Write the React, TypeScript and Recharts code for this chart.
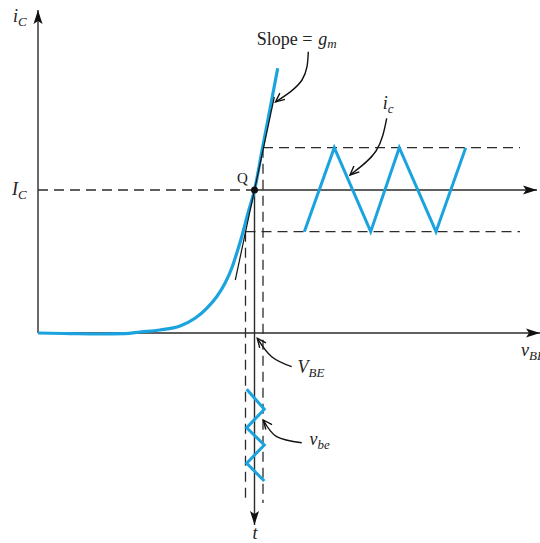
import { ComposedChart, Line, XAxis, YAxis, ReferenceDot } from 'recharts';

// units: origin where the i_C and v_BE axes meet, y pointing up
const yAxisLine = [{ x: 0, y: 0 }, { x: 0, y: 323 }];
const xAxisLine = [{ x: 0, y: 0 }, { x: 502, y: 0 }];
const tAxisLine = [{ x: 216.5, y: 143 }, { x: 216.5, y: -192 }];
const qRightLine = [{ x: 216.5, y: 143 }, { x: 499, y: 143 }];
const icLevelDash = [{ x: 0, y: 143 }, { x: 216.5, y: 143 }];
const icTopDash = [{ x: 225, y: 185.3 }, { x: 482, y: 185.3 }];
const icBottomDash = [{ x: 207.5, y: 101.3 }, { x: 482, y: 101.3 }];
const vbeLeftDash = [{ x: 207.5, y: 101.3 }, { x: 207.5, y: -170 }];
const vbeRightDash = [{ x: 225, y: 185.3 }, { x: 225, y: -170 }];

const curveX = [0, 32, 62, 87, 102, 122, 142, 157, 168.7, 178.7, 187, 193.7, 198.7, 203.7, 210, 216.5, 224.5, 232, 239.7];
const curveY = [0, -0.6, -1, -0.6, 1, 3, 7, 14.7, 24.7, 36.3, 49.7, 64.7, 79.7, 96.3, 120, 143, 185, 224, 264.7];
const curve = curveX.map((x, i) => ({ x, y: curveY[i] }));

const tangent = [{ x: 197.3, y: 53 }, { x: 236.3, y: 236 }];

const icX = [266.3, 296.3, 332.7, 361.3, 398, 427.7];
const icY = [101.3, 185.3, 101.3, 185.3, 101.3, 185.3];
const icWave = icX.map((x, i) => ({ x, y: icY[i] }));

const vbeX = [208.7, 226.3, 208.7, 226.3, 208.7, 226.3];
const vbeY = [-56.3, -76.3, -94.7, -112, -130.3, -148];
const vbeWave = vbeX.map((x, i) => ({ x, y: vbeY[i] }));

const slopeArrow = [{ x: 270.3, y: 281.3 }, { x: 264, y: 253 }, { x: 237.5, y: 231 }];
const icArrow = [{ x: 348.7, y: 214.7 }, { x: 338, y: 182 }, { x: 312, y: 158 }];
const VBEArrow = [{ x: 253.7, y: -33.7 }, { x: 233.7, y: -23.7 }, { x: 219.3, y: -5.3 }];
const vbeArrow = [{ x: 263.7, y: -109.7 }, { x: 238.7, y: -103.7 }, { x: 225.3, y: -87 }];

const BLUE = '#1aa3de';
const INK = '#2b2b2b';
const SERIF = '"Liberation Serif", "DejaVu Serif", "Times New Roman", serif';

const arrowHead = (open: boolean) => (props: any) => {
  const { cx, cy, index, points } = props;
  const key = `ah-${index}`;
  if (!points || index !== points.length - 1) return <g key={key} />;
  const prev = points[index - 1];
  const a = Math.atan2(cy - prev.y, cx - prev.x);
  const len = open ? 9 : 14;
  const half = open ? 4 : 4.5;
  const bx = cx - len * Math.cos(a);
  const by = cy - len * Math.sin(a);
  const px = -Math.sin(a) * half;
  const py = Math.cos(a) * half;
  if (open) {
    return (
      <path
        key={key}
        d={`M${bx + px},${by + py} L${cx},${cy} L${bx - px},${by - py}`}
        fill="none"
        stroke="#111"
        strokeWidth={1.4}
      />
    );
  }
  return (
    <path
      key={key}
      d={`M${cx},${cy} L${bx + px},${by + py} L${bx + 3 * Math.cos(a)},${by + 3 * Math.sin(a)} L${bx - px},${by - py} Z`}
      fill="#111"
      stroke="none"
    />
  );
};

const label = (main: string, sub: string, italic = true, size = 18) => (p: any) => (
  <text x={p.cx} y={p.cy} style={{ fontFamily: SERIF, fontSize: size, fontStyle: italic ? 'italic' : 'normal' }} fill="#222">
    {main}
    {sub && (
      <tspan dy={4} style={{ fontSize: size * 0.72 }}>
        {sub}
      </tspan>
    )}
  </text>
);

const slopeLabel = (p: any) => (
  <text x={p.cx} y={p.cy} style={{ fontFamily: SERIF, fontSize: 18 }} fill="#222">
    Slope =
    <tspan dx={6} style={{ fontStyle: 'italic' }}>g</tspan>
    <tspan dy={3} style={{ fontStyle: 'italic', fontSize: 13 }}>m</tspan>
  </text>
);

export default function App() {
  return (
    <div style={{ position: 'absolute', left: 0, top: 0, width: 540, height: 543, background: '#fff' }}>
      <ComposedChart width={540} height={543} margin={{ top: 0, right: 0, bottom: 0, left: 0 }}>
        <XAxis type="number" dataKey="x" domain={[-38, 502]} hide allowDataOverflow />
        <YAxis type="number" dataKey="y" domain={[-210, 333]} hide allowDataOverflow />

        <Line data={icLevelDash} dataKey="y" stroke={INK} strokeWidth={1.3} strokeDasharray="10 6" dot={false} activeDot={false} isAnimationActive={false} />
        <Line data={icTopDash} dataKey="y" stroke={INK} strokeWidth={1.3} strokeDasharray="10 6" dot={false} activeDot={false} isAnimationActive={false} />
        <Line data={icBottomDash} dataKey="y" stroke={INK} strokeWidth={1.3} strokeDasharray="10 6" dot={false} activeDot={false} isAnimationActive={false} />
        <Line data={vbeLeftDash} dataKey="y" stroke={INK} strokeWidth={1.3} strokeDasharray="10 6" dot={false} activeDot={false} isAnimationActive={false} />
        <Line data={vbeRightDash} dataKey="y" stroke={INK} strokeWidth={1.3} strokeDasharray="10 6" dot={false} activeDot={false} isAnimationActive={false} />

        <Line data={yAxisLine} dataKey="y" stroke={INK} strokeWidth={1.4} dot={arrowHead(false)} activeDot={false} isAnimationActive={false} />
        <Line data={xAxisLine} dataKey="y" stroke={INK} strokeWidth={1.4} dot={arrowHead(false)} activeDot={false} isAnimationActive={false} />
        <Line data={qRightLine} dataKey="y" stroke={INK} strokeWidth={1.4} dot={arrowHead(false)} activeDot={false} isAnimationActive={false} />
        <Line data={tAxisLine} dataKey="y" stroke={INK} strokeWidth={1.4} dot={arrowHead(false)} activeDot={false} isAnimationActive={false} />

        <Line data={curve} dataKey="y" type="monotone" stroke={BLUE} strokeWidth={3.2} dot={false} activeDot={false} isAnimationActive={false} />
        <Line data={tangent} dataKey="y" stroke="#111" strokeWidth={1.2} dot={false} activeDot={false} isAnimationActive={false} />
        <Line data={icWave} dataKey="y" stroke={BLUE} strokeWidth={3} dot={false} activeDot={false} isAnimationActive={false} />
        <Line data={vbeWave} dataKey="y" stroke={BLUE} strokeWidth={3} dot={false} activeDot={false} isAnimationActive={false} />

        <Line data={slopeArrow} dataKey="y" type="natural" stroke="#111" strokeWidth={1.4} dot={arrowHead(true)} activeDot={false} isAnimationActive={false} />
        <Line data={icArrow} dataKey="y" type="natural" stroke="#111" strokeWidth={1.4} dot={arrowHead(true)} activeDot={false} isAnimationActive={false} />
        <Line data={VBEArrow} dataKey="y" type="natural" stroke="#111" strokeWidth={1.4} dot={arrowHead(true)} activeDot={false} isAnimationActive={false} />
        <Line data={vbeArrow} dataKey="y" type="natural" stroke="#111" strokeWidth={1.4} dot={arrowHead(true)} activeDot={false} isAnimationActive={false} />

        <ReferenceDot x={216.5} y={143} r={3.5} fill="#111" stroke="none" />

        <ReferenceDot x={-25} y={311} shape={label('i', 'C')} />
        <ReferenceDot x={-26} y={138} shape={label('I', 'C')} />
        <ReferenceDot x={199} y={150} shape={label('Q', '', false, 15)} />
        <ReferenceDot x={218.7} y={288} shape={slopeLabel} />
        <ReferenceDot x={344.7} y={224} shape={label('i', 'c')} />
        <ReferenceDot x={483} y={-23} shape={label('v', 'BE')} />
        <ReferenceDot x={259.5} y={-40} shape={label('V', 'BE')} />
        <ReferenceDot x={271.5} y={-112} shape={label('v', 'be')} />
        <ReferenceDot x={214.5} y={-206} shape={label('t', '')} />
      </ComposedChart>
    </div>
  );
}
